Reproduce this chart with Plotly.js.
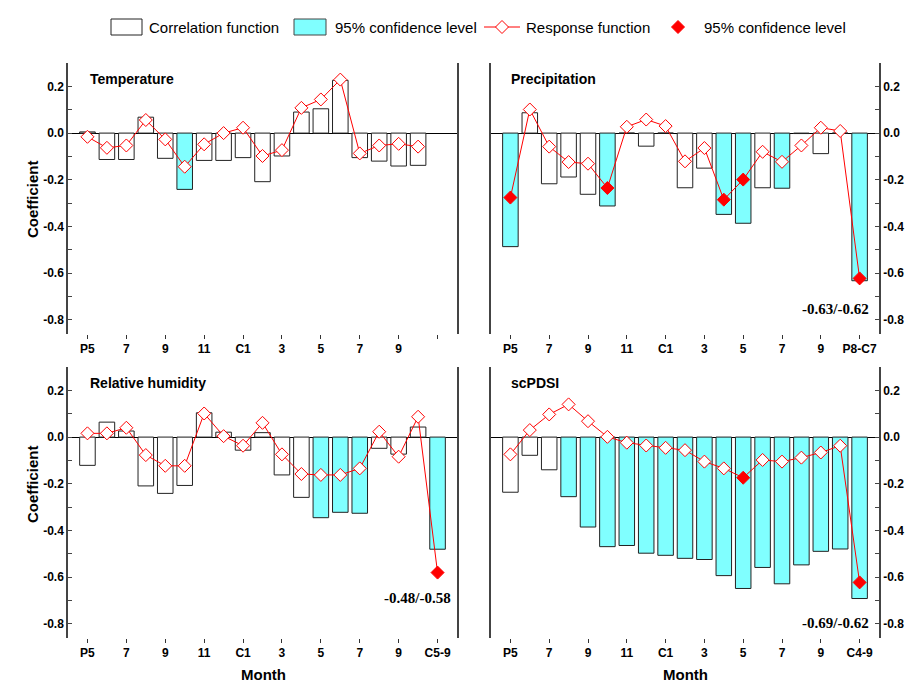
<!DOCTYPE html>
<html>
<head>
<meta charset="utf-8">
<script src="https://cdn.plot.ly/plotly-3.0.1.min.js"></script>
<style>
html,body{margin:0;padding:0;background:#ffffff;}
#chart{width:907px;height:684px;}
</style>
</head>
<body>
<div id="chart"></div>
<script>
// ---------------- DATA ----------------
const months = ['P5','P6','P7','P8','P9','P10','P11','P12','C1','C2','C3','C4','C5','C6','C7','C8','C9','C10'];
const seasonTemp = '';
const seasonPrec = 'P8-C7';
const seasonRH = 'C5-9';
const seasonPDSI = 'C4-9';
const tickBase = ['P5','7','9','11','C1','3','5','7','9'];

const tempCorr = [0.005,-0.113,-0.113,0.068,-0.108,-0.241,-0.117,-0.117,-0.105,-0.208,-0.098,0.090,0.104,0.226,-0.105,-0.120,-0.141,-0.138,null];
const tempResp = [-0.016,-0.063,-0.053,0.056,-0.027,-0.144,-0.048,0.000,0.023,-0.098,-0.073,0.108,0.144,0.229,-0.087,-0.053,-0.046,-0.058,null];
const tempCorrSig = [5];
const tempRespSig = [];

const precCorr = [-0.486,0.087,-0.217,-0.188,-0.262,-0.312,0.000,-0.056,0.000,-0.234,-0.150,-0.348,-0.386,-0.234,-0.236,-0.002,-0.088,0.000,-0.632];
const precResp = [-0.276,0.101,-0.058,-0.124,-0.131,-0.235,0.027,0.058,0.030,-0.121,-0.064,-0.285,-0.199,-0.080,-0.123,-0.053,0.023,0.009,-0.622];
const precCorrSig = [0,5,11,12,14,18];
const precRespSig = [0,5,11,12,18];

const rhCorr = [-0.121,0.064,0.026,-0.209,-0.241,-0.207,0.104,0.021,-0.056,0.019,-0.162,-0.258,-0.345,-0.322,-0.326,-0.048,-0.073,0.043,-0.480];
const rhResp = [0.016,0.016,0.040,-0.077,-0.123,-0.123,0.101,0.004,-0.037,0.061,-0.074,-0.158,-0.162,-0.162,-0.134,0.023,-0.084,0.087,-0.580];
const rhCorrSig = [12,13,14,18];
const rhRespSig = [18];

const pdsiCorr = [-0.236,-0.078,-0.140,-0.255,-0.385,-0.469,-0.464,-0.497,-0.506,-0.519,-0.524,-0.593,-0.648,-0.558,-0.628,-0.547,-0.489,-0.479,-0.691];
const pdsiResp = [-0.074,0.030,0.097,0.140,0.068,0.001,-0.024,-0.036,-0.046,-0.056,-0.105,-0.134,-0.174,-0.098,-0.105,-0.088,-0.066,-0.037,-0.622];
const pdsiCorrSig = [3,4,5,6,7,8,9,10,11,12,13,14,15,16,17,18];
const pdsiRespSig = [12,18];

const yTickVals = [-0.8,-0.6,-0.4,-0.2,0,0.2];
const yTickText = ['-0.8','-0.6','-0.4','-0.2','0.0','0.2'];

// ---------------- STYLE ----------------
const W = 907, H = 684;
const px = v => v / W;
const py = v => 1 - v / H;
const SANS = 'Liberation Sans, Arial, sans-serif';
const SERIF = 'Liberation Serif, Times New Roman, serif';
const CYAN = '#80ffff';
const RED = '#ff0000';

function categoriesFor(season){ return months.concat([season]); }
function tickTextFor(season){ return tickBase.concat([season]); }

function panelTraces(season, corr, resp, corrSig, respSig, xa, ya){
  const cats = categoriesFor(season);
  const xs = cats.map((c,i)=>i);
  return [
    {type:'bar', x:xs, y:corr, xaxis:xa, yaxis:ya, width:0.8, showlegend:false,
     customdata:cats, textposition:'none', hovertemplate:'%{customdata}: %{y:.2f}<extra>Correlation</extra>',
     marker:{color:corr.map((v,i)=>corrSig.includes(i)?CYAN:'#ffffff'), line:{color:'#222222', width:1}}},
    {type:'scatter', mode:'lines+markers', x:xs, y:resp, xaxis:xa, yaxis:ya, showlegend:false,
     customdata:cats, hovertemplate:'%{customdata}: %{y:.2f}<extra>Response</extra>',
     line:{color:RED, width:1},
     marker:{symbol:'diamond', size:10,
             color:resp.map((v,i)=>respSig.includes(i)?RED:'#ffffff'),
             line:{color:RED, width:1}}}
  ];
}

const data = [].concat(
  panelTraces(seasonTemp, tempCorr, tempResp, tempCorrSig, tempRespSig, 'x', 'y'),
  panelTraces(seasonPrec, precCorr, precResp, precCorrSig, precRespSig, 'x2', 'y2'),
  panelTraces(seasonRH, rhCorr, rhResp, rhCorrSig, rhRespSig, 'x3', 'y3'),
  panelTraces(seasonPDSI, pdsiCorr, pdsiResp, pdsiCorrSig, pdsiRespSig, 'x4', 'y4')
);

const leftDom = [px(68), px(457)];
const rightDom = [px(491), px(879)];
const topDom = [py(334), py(63)];
const botDom = [py(638), py(367)];

function xAxis(season, dom, anchor){
  return {domain:dom, anchor:anchor, range:[-1,19], tickmode:'array',
    tickvals:categoriesFor(season).map((c,i)=>i).filter(i=>i%2===0),
    ticktext:tickTextFor(season),
    ticks:'outside', ticklen:4, tickwidth:1, tickcolor:'#333333',
    showline:false, zeroline:false, showgrid:false, fixedrange:true,
    tickfont:{family:SANS, size:12, weight:'bold', color:'#000000'}};
}
function yAxis(dom, anchor, side){
  return {domain:dom, anchor:anchor, side:side, range:[-0.86,0.30],
    tickmode:'array', tickvals:yTickVals, ticktext:yTickText,
    ticks:'inside', ticklen:4, tickwidth:1, tickcolor:'#444444',
    minor:{tickmode:'linear', tick0:0, dtick:0.1, ticks:'inside', ticklen:4, tickcolor:'#444444', tickwidth:1},
    showline:true, mirror:true, linecolor:'#444444', linewidth:1.5,
    zeroline:true, zerolinecolor:'#000000', zerolinewidth:1,
    showgrid:false, fixedrange:true,
    tickfont:{family:SANS, size:12, weight:'bold', color:'#000000'}};
}

const annotations = [
  {text:'Temperature', x:px(88), y:py(79)},
  {text:'Precipitation', x:px(509), y:py(79)},
  {text:'Relative humidity', x:px(88), y:py(383)},
  {text:'scPDSI', x:px(509), y:py(383)}
].map(a=>Object.assign({xref:'paper', yref:'paper', xanchor:'left', yanchor:'middle', showarrow:false,
  font:{family:SANS, size:14, weight:'bold', color:'#000000'}}, a));

function pairText(c, r){ return c.toFixed(2) + '/' + r.toFixed(2); }
[
  {text:pairText(precCorr[18], precResp[18]), x:px(871), y:py(309)},
  {text:pairText(rhCorr[18], rhResp[18]), x:px(453), y:py(598)},
  {text:pairText(pdsiCorr[18], pdsiResp[18]), x:px(871), y:py(623)}
].forEach(a=>annotations.push(Object.assign({xref:'paper', yref:'paper', xanchor:'right', yanchor:'middle', showarrow:false,
  font:{family:SERIF, size:15, weight:'bold', color:'#000000'}}, a)));

[
  {text:'Coefficient', x:px(32), y:py(199), textangle:-90},
  {text:'Coefficient', x:px(32), y:py(484), textangle:-90},
  {text:'Month', x:px(263), y:py(674)},
  {text:'Month', x:px(685), y:py(674)}
].forEach(a=>annotations.push(Object.assign({xref:'paper', yref:'paper', xanchor:'center', yanchor:'middle', showarrow:false,
  font:{family:SANS, size:15, weight:'bold', color:'#000000'}}, a)));

// legend (decoration)
const LY = 27;
[
  {text:'Correlation function', x:px(147)},
  {text:'95% confidence level', x:px(333)},
  {text:'Response function', x:px(524)},
  {text:'95% confidence level', x:px(702)}
].forEach(a=>annotations.push(Object.assign({xref:'paper', yref:'paper', y:py(LY), xanchor:'left', yanchor:'middle', showarrow:false,
  font:{family:SANS, size:15, color:'#000000'}}, a)));

function diamondPath(cx, cy, r){
  return 'M' + px(cx) + ',' + py(cy - r) + ' L' + px(cx + r) + ',' + py(cy) + ' L' + px(cx) + ',' + py(cy + r) + ' L' + px(cx - r) + ',' + py(cy) + ' Z';
}
const shapes = [
  {type:'rect', xref:'paper', yref:'paper', x0:px(111), x1:px(142), y0:py(35), y1:py(19), fillcolor:'#ffffff', line:{color:'#222222', width:1}},
  {type:'rect', xref:'paper', yref:'paper', x0:px(294), x1:px(326), y0:py(35), y1:py(19), fillcolor:CYAN, line:{color:'#444444', width:1}},
  {type:'line', xref:'paper', yref:'paper', x0:px(484), x1:px(520), y0:py(LY), y1:py(LY), line:{color:RED, width:1}},
  {type:'path', xref:'paper', yref:'paper', path:diamondPath(502, LY, 6.5), fillcolor:'#ffffff', line:{color:RED, width:1}},
  {type:'path', xref:'paper', yref:'paper', path:diamondPath(678, LY, 6.5), fillcolor:RED, line:{color:RED, width:1}}
];

const layout = {
  width:W, height:H,
  margin:{l:0, r:0, t:0, b:0, pad:0},
  paper_bgcolor:'#ffffff', plot_bgcolor:'rgba(0,0,0,0)',
  showlegend:false,
  font:{family:SANS, color:'#000000'},
  xaxis: xAxis(seasonTemp, leftDom, 'y'),
  yaxis: yAxis(topDom, 'x', 'left'),
  xaxis2: xAxis(seasonPrec, rightDom, 'y2'),
  yaxis2: yAxis(topDom, 'x2', 'right'),
  xaxis3: xAxis(seasonRH, leftDom, 'y3'),
  yaxis3: yAxis(botDom, 'x3', 'left'),
  xaxis4: xAxis(seasonPDSI, rightDom, 'y4'),
  yaxis4: yAxis(botDom, 'x4', 'right'),
  annotations: annotations,
  shapes: shapes
};

Plotly.newPlot('chart', data, layout, {displayModeBar:false});
</script>
</body>
</html>
